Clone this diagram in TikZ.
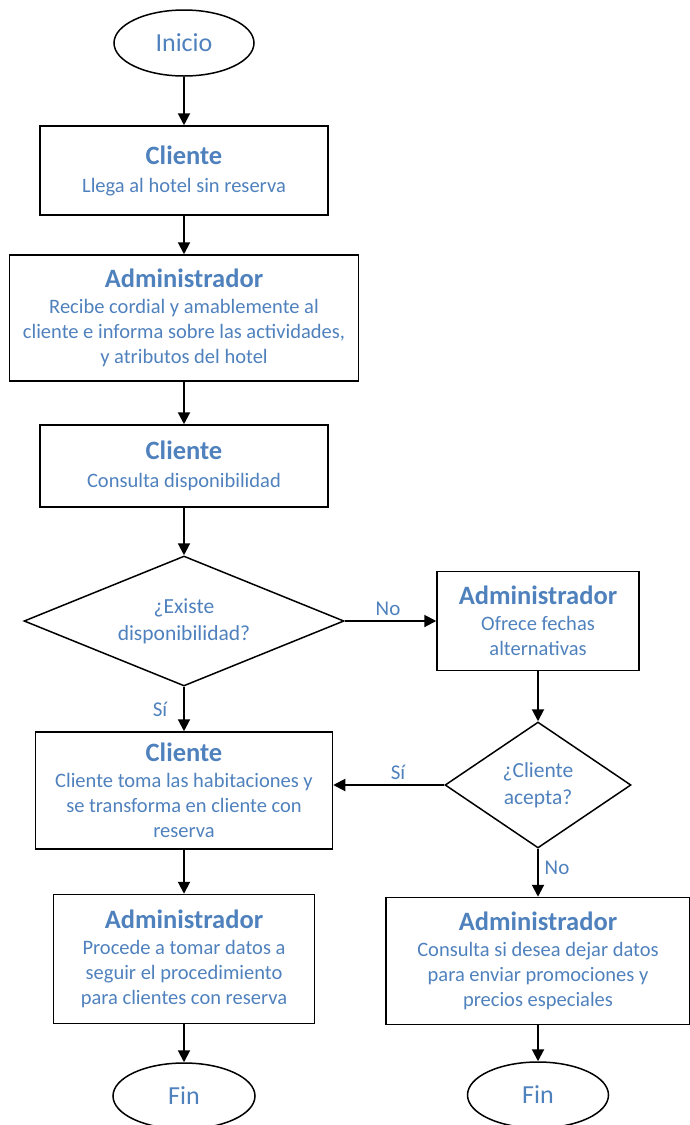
\documentclass[tikz,border=0pt]{standalone}
\usepackage{fontspec}
\setmainfont{Carlito}
\usepackage{tikz}
\usetikzlibrary{arrows.meta,shapes.geometric,positioning}

\definecolor{azul}{RGB}{79,129,189}

\tikzset{
  proceso/.style={draw, rectangle, line width=1.5pt, align=center, text=azul,
    inner sep=0pt, font=\fontsize{20.5}{25}\selectfont},
  decision/.style={draw, diamond, line width=1.5pt, align=center, text=azul,
    inner sep=0pt, font=\fontsize{21.5}{27}\selectfont},
  terminal/.style={draw, ellipse, line width=1.5pt, text=azul,
    inner sep=0pt, font=\fontsize{26}{30}\selectfont},
  flecha/.style={line width=2pt, -{Triangle[length=12pt,width=12pt]}},
  etiqueta/.style={text=azul, font=\fontsize{21}{24}\selectfont},
}
\newcommand{\titulo}[1]{{\fontsize{26.5}{30}\selectfont\bfseries #1}}

\begin{document}
\begin{tikzpicture}[x=1pt,y=1pt]
  \useasboundingbox (0,0) rectangle (689,-1125);

  % columna izquierda
  \node[terminal, minimum width=140, minimum height=66] (inicio) at (184,-43) {Inicio};
  \node[proceso, minimum width=288, minimum height=89] (cli1) at (184,-170.5)
    {\titulo{Cliente}\\[3pt]Llega al hotel sin reserva};
  \node[proceso, minimum width=349, minimum height=126] (adm1) at (184,-318)
    {\titulo{Administrador}\\[1pt]Recibe cordial y amablemente al\\cliente e informa sobre las actividades,\\y atributos del hotel};
  \node[proceso, minimum width=288, minimum height=82] (cli2) at (184,-466)
    {\titulo{Cliente}\\[3pt]Consulta disponibilidad};
  \node[decision, shape aspect=2.46, minimum width=320, minimum height=130] (dec1) at (184,-621)
    {¿Existe\\disponibilidad?};
  \node[proceso, minimum width=297, minimum height=117] (cli3) at (184,-790.5)
    {\titulo{Cliente}\\[1pt]Cliente toma las habitaciones y\\se transforma en cliente con\\reserva};
  \node[proceso, minimum width=261, minimum height=129] (adm2) at (184,-959)
    {\titulo{Administrador}\\[1pt]Procede a tomar datos a\\seguir el procedimiento\\para clientes con reserva};
  \node[terminal, minimum width=142, minimum height=66] (fin1) at (184,-1096) {Fin};

  % columna derecha
  \node[proceso, minimum width=202, minimum height=99] (adm3) at (538,-621)
    {\titulo{Administrador}\\[1pt]Ofrece fechas\\alternativas};
  \node[decision, shape aspect=1.48, minimum width=186, minimum height=126] (dec2) at (538,-785)
    {¿Cliente\\acepta?};
  \node[proceso, minimum width=304, minimum height=127] (adm4) at (538,-961)
    {\titulo{Administrador}\\[1pt]Consulta si desea dejar datos\\para enviar promociones y\\precios especiales};
  \node[terminal, minimum width=141, minimum height=66] (fin2) at (538,-1095) {Fin};

  % conectores
  \draw[flecha] (inicio) -- (cli1);
  \draw[flecha] (cli1) -- (adm1);
  \draw[flecha] (adm1) -- (cli2);
  \draw[flecha] (cli2) -- (dec1);
  \draw[flecha] (dec1) -- (cli3);
  \draw[flecha] (cli3) -- (adm2);
  \draw[flecha] (adm2) -- (fin1);
  \draw[flecha] (dec1.east) -- (adm3.west);
  \draw[flecha] (adm3) -- (dec2);
  \draw[flecha] (dec2.west) -- (dec2.west -| cli3.east);
  \draw[flecha] (dec2) -- (adm4);
  \draw[flecha] (adm4) -- (fin2);

  % etiquetas
  \node[etiqueta] (no1) at (388,-609) {No};
  \node[etiqueta] (si1) at (160,-709) {Sí};
  \node[etiqueta] (si2) at (398,-772) {Sí};
  \node[etiqueta] (no2) at (557,-868) {No};
\end{tikzpicture}
\end{document}
